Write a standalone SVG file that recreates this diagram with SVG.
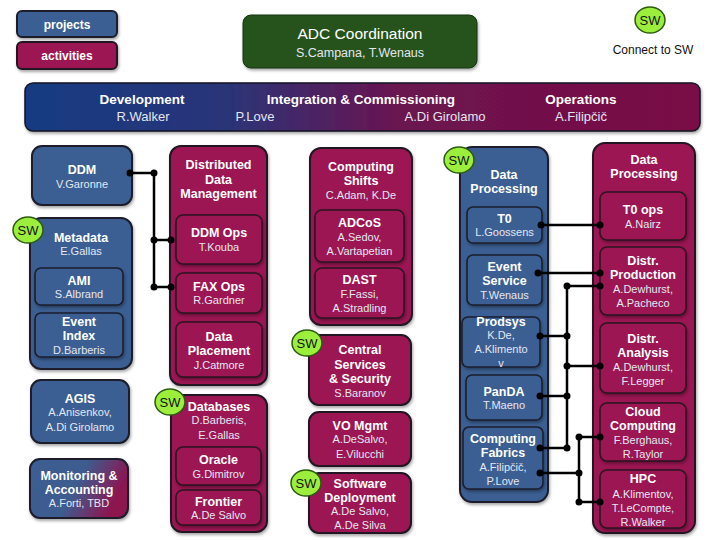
<svg xmlns="http://www.w3.org/2000/svg" width="720" height="540" viewBox="0 0 720 540">
<defs>
<linearGradient id="bannerGrad" x1="0" y1="0" x2="1" y2="0">
<stop offset="0" stop-color="#163b82"/>
<stop offset="0.3" stop-color="#2a3478"/>
<stop offset="0.55" stop-color="#6a1450"/>
<stop offset="1" stop-color="#7a0c44"/>
</linearGradient>
<linearGradient id="monGrad" x1="0" y1="0" x2="1" y2="0.3">
<stop offset="0" stop-color="#3b5e92"/>
<stop offset="0.55" stop-color="#3d5c90"/>
<stop offset="1" stop-color="#8e1450"/>
</linearGradient>
<filter id="sh" x="-10%" y="-10%" width="130%" height="130%">
<feDropShadow dx="1" dy="2" stdDeviation="1.5" flood-color="#000" flood-opacity="0.35"/>
</filter>
</defs>
<style>
.blue{fill:#3b5e92;stroke:#1b1e2c;stroke-width:2;filter:url(#sh)}
.red{fill:#9b1352;stroke:#221620;stroke-width:2;filter:url(#sh)}
.iblue{fill:#3b5e92;stroke:#1b1e2c;stroke-width:1.6;filter:url(#sh)}
.ired{fill:#9b1352;stroke:#2a1420;stroke-width:1.6;filter:url(#sh)}
.t{font-family:"Liberation Sans",Arial,sans-serif;font-weight:bold;font-size:12.5px;fill:#ffffff;text-anchor:middle}
.n{font-family:"Liberation Sans",Arial,sans-serif;font-size:11px;fill:#e4e6f0;text-anchor:middle}
.sw ellipse{fill:#9bef3c;stroke:#2d5a10;stroke-width:1.5}
.sw text{font-family:"Liberation Sans",Arial,sans-serif;font-size:13px;fill:#111;text-anchor:middle}
.c line{stroke:#000;stroke-width:2.5}
.c circle{fill:#000}
</style>
<rect width="720" height="540" fill="#ffffff"/>

<g id="legend-projects"><rect x="17" y="11" width="100" height="26" rx="5" class="blue"/><text x="67" y="28.5" class="t" style="font-size:12px">projects</text></g>
<g id="legend-activities"><rect x="17" y="42" width="100" height="27" rx="5" class="red"/><text x="67" y="60" class="t" style="font-size:12px">activities</text></g>

<g id="adc"><rect x="243" y="15" width="234" height="53" rx="8" fill="#25521a" stroke="#17330f" stroke-width="1" filter="url(#sh)"/>
<text x="360" y="38.5" class="n" style="font-size:15.5px;fill:#fff">ADC Coordination</text>
<text x="360" y="56.5" class="n" style="font-size:12.5px">S.Campana, T.Wenaus</text></g>

<g id="sw-legend" class="sw"><ellipse cx="650" cy="20" rx="15" ry="13"/><text x="650" y="24.5">SW</text></g>
<text x="653" y="54" style="font-family:'Liberation Sans',Arial,sans-serif;font-size:12px;fill:#111;text-anchor:middle">Connect to SW</text>

<g id="banner"><rect x="25" y="83" width="675" height="48" rx="8" fill="url(#bannerGrad)" stroke="#151525" stroke-width="1.5" filter="url(#sh)"/>
<text x="142" y="104" class="t" style="font-size:13.5px">Development</text>
<text x="143" y="120.5" class="n" style="font-size:13px">R.Walker</text>
<text x="361" y="104" class="t" style="font-size:13.5px">Integration &amp; Commissioning</text>
<text x="255" y="120.5" class="n" style="font-size:13px">P.Love</text>
<text x="445" y="120.5" class="n" style="font-size:13px">A.Di Girolamo</text>
<text x="581" y="104" class="t" style="font-size:13.5px">Operations</text>
<text x="581" y="120.5" class="n" style="font-size:13px">A.Filipčič</text></g>

<!-- left blue column -->
<g id="ddm"><rect x="32" y="146" width="100" height="59" rx="10" class="blue"/><text x="82" y="173.5" class="t">DDM</text><text x="82" y="187.5" class="n">V.Garonne</text></g>
<g id="metadata"><rect x="30" y="218" width="102" height="151" rx="11" class="blue"/><text x="81" y="241.5" class="t">Metadata</text><text x="81" y="255" class="n">E.Gallas</text></g>
<g id="ami"><rect x="35" y="268" width="88" height="37" rx="6" class="iblue"/><text x="79" y="284.5" class="t">AMI</text><text x="79" y="298" class="n">S.Albrand</text></g>
<g id="event-index"><rect x="35" y="313" width="88" height="44" rx="6" class="iblue"/><text x="79" y="325.5" class="t">Event</text><text x="79" y="339.5" class="t">Index</text><text x="79" y="353.5" class="n">D.Barberis</text></g>
<g id="sw-metadata" class="sw"><ellipse cx="28" cy="230" rx="15" ry="13"/><text x="28" y="234.5">SW</text></g>
<g id="agis"><rect x="31" y="380" width="98" height="63" rx="10" class="blue"/><text x="80" y="402.5" class="t">AGIS</text><text x="80" y="416" class="n">A.Anisenkov,</text><text x="80" y="431" class="n">A.Di Girolamo</text></g>
<g id="monitoring"><rect x="30" y="459" width="98" height="59" rx="10" fill="url(#monGrad)" stroke="#1b1e2c" stroke-width="2" filter="url(#sh)"/><text x="79" y="479.5" class="t">Monitoring &amp;</text><text x="79" y="493.5" class="t">Accounting</text><text x="79" y="507" class="n">A.Forti, TBD</text></g>

<!-- DDM crimson column -->
<g id="ddm-activity"><rect x="170" y="146" width="97" height="239" rx="11" class="red"/><text x="218.5" y="168.5" class="t">Distributed</text><text x="218.5" y="183.5" class="t">Data</text><text x="218.5" y="197.5" class="t">Management</text></g>
<g id="ddm-ops"><rect x="176" y="215" width="86" height="49" rx="7" class="ired"/><text x="219" y="236.5" class="t">DDM Ops</text><text x="219" y="251" class="n">T.Kouba</text></g>
<g id="fax-ops"><rect x="176" y="273" width="86" height="40" rx="7" class="ired"/><text x="219" y="290.5" class="t">FAX Ops</text><text x="219" y="304" class="n">R.Gardner</text></g>
<g id="data-placement"><rect x="176" y="322" width="86" height="55" rx="7" class="ired"/><text x="219" y="340.5" class="t">Data</text><text x="219" y="354.5" class="t">Placement</text><text x="219" y="369" class="n">J.Catmore</text></g>

<g id="databases"><rect x="171" y="395" width="96" height="137" rx="11" class="red"/><text x="219" y="410.5" class="t">Databases</text><text x="219" y="424" class="n">D.Barberis,</text><text x="219" y="439" class="n">E.Gallas</text></g>
<g id="oracle"><rect x="176" y="447" width="85" height="38" rx="7" class="ired"/><text x="218.5" y="463.5" class="t">Oracle</text><text x="218.5" y="478" class="n">G.Dimitrov</text></g>
<g id="frontier"><rect x="176" y="490" width="85" height="35" rx="7" class="ired"/><text x="218.5" y="505.5" class="t">Frontier</text><text x="218.5" y="519" class="n">A.De Salvo</text></g>
<g id="sw-databases" class="sw"><ellipse cx="170" cy="402" rx="15" ry="13"/><text x="170" y="406.5">SW</text></g>

<!-- middle column -->
<g id="computing-shifts"><rect x="310" y="148" width="102" height="177" rx="11" class="red"/><text x="361" y="170.5" class="t">Computing</text><text x="361" y="184.5" class="t">Shifts</text><text x="361" y="199" class="n">C.Adam, K.De</text></g>
<g id="adcos"><rect x="315" y="210" width="89" height="52" rx="7" class="ired"/><text x="359.5" y="226.5" class="t">ADCoS</text><text x="359.5" y="241" class="n">A.Sedov,</text><text x="359.5" y="255" class="n">A.Vartapetian</text></g>
<g id="dast"><rect x="315" y="268" width="89" height="50" rx="7" class="ired"/><text x="359.5" y="283.5" class="t">DAST</text><text x="359.5" y="298" class="n">F.Fassi,</text><text x="359.5" y="312" class="n">A.Stradling</text></g>

<g id="central-services"><rect x="309" y="335" width="102" height="70" rx="10" class="red"/><text x="360" y="353.5" class="t">Central</text><text x="360" y="368.5" class="t">Services</text><text x="360" y="382.5" class="t">&amp; Security</text><text x="360" y="397" class="n">S.Baranov</text></g>
<g id="sw-central" class="sw"><ellipse cx="307" cy="343" rx="15" ry="13"/><text x="307" y="347.5">SW</text></g>
<g id="vo-mgmt"><rect x="309" y="412" width="102" height="54" rx="10" class="red"/><text x="360" y="429.5" class="t">VO Mgmt</text><text x="360" y="443" class="n">A.DeSalvo,</text><text x="360" y="458" class="n">E.Vilucchi</text></g>
<g id="software-deployment"><rect x="309" y="473" width="102" height="60" rx="10" class="red"/><text x="360" y="487.5" class="t">Software</text><text x="360" y="501.5" class="t">Deployment</text><text x="360" y="515" class="n">A.De Salvo,</text><text x="360" y="529" class="n">A.De Silva</text></g>
<g id="sw-software" class="sw"><ellipse cx="306" cy="483" rx="15" ry="13"/><text x="306" y="487.5">SW</text></g>

<!-- right blue Data Processing -->
<g id="dp-project"><rect x="460" y="147" width="88" height="355" rx="12" class="blue"/><text x="504" y="178.5" class="t">Data</text><text x="504" y="192.5" class="t">Processing</text></g>
<g id="t0"><rect x="467" y="207" width="75" height="36" rx="6" class="iblue"/><text x="504.5" y="222.5" class="t">T0</text><text x="504.5" y="236" class="n">L.Goossens</text></g>
<g id="event-service"><rect x="467" y="255" width="75" height="50" rx="6" class="iblue"/><text x="504.5" y="270.5" class="t">Event</text><text x="504.5" y="284.5" class="t">Service</text><text x="504.5" y="299" class="n">T.Wenaus</text></g>
<g id="prodsys"><rect x="462" y="317" width="78" height="50" rx="6" class="iblue"/><text x="501" y="325.5" class="t">Prodsys</text><text x="501" y="339" class="n">K.De,</text><text x="501" y="353" class="n">A.Klimento</text><text x="501" y="367" class="n">v</text></g>
<g id="panda"><rect x="466" y="375" width="76" height="45" rx="6" class="iblue"/><text x="504" y="395.5" class="t">PanDA</text><text x="504" y="409" class="n">T.Maeno</text></g>
<g id="computing-fabrics"><rect x="463" y="427" width="80" height="62" rx="6" class="iblue"/><text x="503" y="442.5" class="t">Computing</text><text x="503" y="456.5" class="t">Fabrics</text><text x="503" y="471" class="n">A.Filipčič,</text><text x="503" y="485" class="n">P.Love</text></g>
<g id="sw-dp" class="sw"><ellipse cx="459" cy="160" rx="15" ry="13"/><text x="459" y="164.5">SW</text></g>

<!-- right crimson Data Processing -->
<g id="dp-activity"><rect x="593" y="143" width="102" height="390" rx="12" class="red"/><text x="644" y="163.5" class="t">Data</text><text x="644" y="177.5" class="t">Processing</text></g>
<g id="t0-ops"><rect x="600" y="192" width="86" height="48" rx="7" class="ired"/><text x="643" y="213.5" class="t">T0 ops</text><text x="643" y="228" class="n">A.Nairz</text></g>
<g id="distr-production"><rect x="600" y="247" width="86" height="68" rx="7" class="ired"/><text x="643" y="264.5" class="t">Distr.</text><text x="643" y="278.5" class="t">Production</text><text x="643" y="293" class="n">A.Dewhurst,</text><text x="643" y="307" class="n">A.Pacheco</text></g>
<g id="distr-analysis"><rect x="600" y="323" width="86" height="70" rx="7" class="ired"/><text x="643" y="342.5" class="t">Distr.</text><text x="643" y="356.5" class="t">Analysis</text><text x="643" y="371" class="n">A.Dewhurst,</text><text x="643" y="385" class="n">F.Legger</text></g>
<g id="cloud-computing"><rect x="600" y="403" width="86" height="58" rx="7" class="ired"/><text x="643" y="415.5" class="t">Cloud</text><text x="643" y="429.5" class="t">Computing</text><text x="643" y="444" class="n">F.Berghaus,</text><text x="643" y="458" class="n">R.Taylor</text></g>
<g id="hpc"><rect x="600" y="470" width="86" height="58" rx="7" class="ired"/><text x="643" y="482.5" class="t">HPC</text><text x="643" y="498" class="n">A.Klimentov,</text><text x="643" y="512" class="n">T.LeCompte,</text><text x="643" y="526" class="n">R.Walker</text></g>

<g id="connectors" class="c">
<line x1="130" y1="173" x2="154" y2="173"/>
<line x1="154" y1="173" x2="154" y2="287"/>
<line x1="154" y1="240" x2="171" y2="240"/>
<line x1="154" y1="287" x2="171" y2="287"/>
<circle cx="130" cy="173" r="3.5"/><circle cx="154" cy="173" r="3.5"/>
<circle cx="154" cy="240" r="3.5"/><circle cx="171" cy="240" r="3.5"/>
<circle cx="154" cy="287" r="3.5"/><circle cx="171" cy="287" r="3.5"/>

<line x1="541" y1="225" x2="600" y2="225"/>
<circle cx="541" cy="225" r="3.5"/><circle cx="600" cy="225" r="3.5"/>
<line x1="538" y1="273" x2="600" y2="273"/>
<circle cx="538" cy="273" r="3.5"/><circle cx="600" cy="273" r="3.5"/>

<line x1="567" y1="286" x2="567" y2="448"/>
<line x1="567" y1="286" x2="600" y2="286"/>
<circle cx="567" cy="286" r="3.5"/><circle cx="600" cy="286" r="3.5"/>
<line x1="540" y1="336" x2="567" y2="336"/>
<circle cx="540" cy="336" r="3.5"/><circle cx="567" cy="336" r="3.5"/>
<line x1="567" y1="366" x2="600" y2="366"/>
<circle cx="567" cy="366" r="3.5"/><circle cx="600" cy="366" r="3.5"/>
<line x1="540" y1="396" x2="567" y2="396"/>
<circle cx="540" cy="396" r="3.5"/><circle cx="567" cy="396" r="3.5"/>
<line x1="540" y1="448" x2="567" y2="448"/>
<circle cx="540" cy="448" r="3.5"/><circle cx="567" cy="448" r="3.5"/>

<line x1="579" y1="437" x2="579" y2="502"/>
<line x1="579" y1="437" x2="600" y2="437"/>
<circle cx="579" cy="437" r="3.5"/><circle cx="600" cy="437" r="3.5"/>
<line x1="540" y1="473" x2="579" y2="473"/>
<circle cx="540" cy="473" r="3.5"/><circle cx="579" cy="473" r="3.5"/>
<line x1="579" y1="502" x2="600" y2="502"/>
<circle cx="579" cy="502" r="3.5"/><circle cx="600" cy="502" r="3.5"/>
</g>
</svg>
